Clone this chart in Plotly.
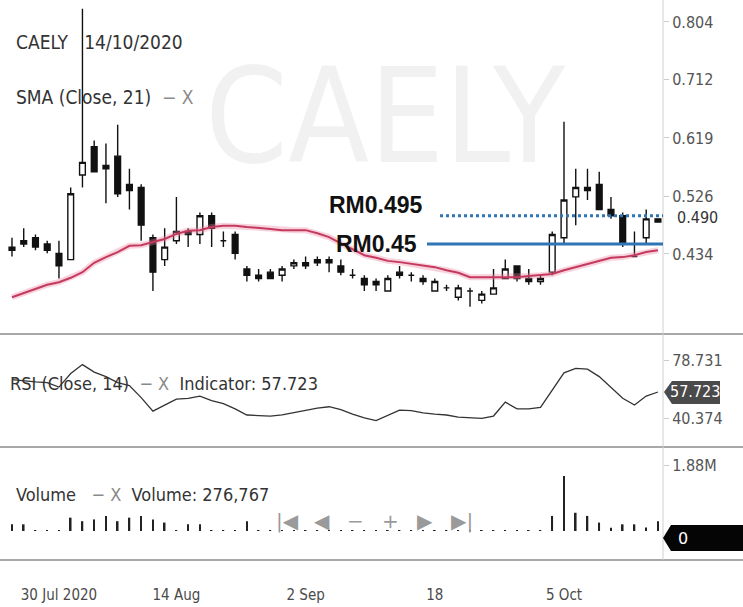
import plotly.graph_objects as go

# ---------------- data ----------------
dates = [
    "2020-07-24", "2020-07-27", "2020-07-28", "2020-07-29", "2020-07-30",
    "2020-08-03", "2020-08-04", "2020-08-05", "2020-08-06", "2020-08-07",
    "2020-08-10", "2020-08-11", "2020-08-12", "2020-08-13", "2020-08-14",
    "2020-08-17", "2020-08-18", "2020-08-19", "2020-08-21", "2020-08-24",
    "2020-08-25", "2020-08-26", "2020-08-27", "2020-08-28", "2020-09-01",
    "2020-09-02", "2020-09-03", "2020-09-04", "2020-09-07", "2020-09-08",
    "2020-09-09", "2020-09-10", "2020-09-11", "2020-09-14", "2020-09-15",
    "2020-09-17", "2020-09-18", "2020-09-21", "2020-09-22", "2020-09-23",
    "2020-09-24", "2020-09-25", "2020-09-28", "2020-09-29", "2020-09-30",
    "2020-10-01", "2020-10-02", "2020-10-05", "2020-10-06", "2020-10-07",
    "2020-10-08", "2020-10-09", "2020-10-12", "2020-10-13", "2020-10-14",
    "2020-10-15",
]
opens = [0.445, 0.455, 0.460, 0.450, 0.435, 0.425, 0.560, 0.605, 0.575, 0.590,
         0.545, 0.540, 0.460, 0.425, 0.455, 0.470, 0.465, 0.495, 0.455, 0.465,
         0.410, 0.400, 0.405, 0.400, 0.415, 0.420, 0.425, 0.425, 0.415, 0.400,
         0.395, 0.390, 0.375, 0.405, 0.400, 0.395, 0.375, 0.380, 0.365, 0.375,
         0.360, 0.370, 0.395, 0.415, 0.395, 0.390, 0.405, 0.460, 0.525, 0.540,
         0.545, 0.505, 0.495, 0.430, 0.460, 0.490]
highs = [0.460, 0.475, 0.465, 0.455, 0.455, 0.540, 0.825, 0.615, 0.610, 0.640,
         0.570, 0.545, 0.465, 0.475, 0.525, 0.475, 0.500, 0.500, 0.470, 0.470,
         0.415, 0.410, 0.410, 0.415, 0.425, 0.430, 0.430, 0.430, 0.425, 0.410,
         0.400, 0.395, 0.400, 0.415, 0.405, 0.400, 0.395, 0.385, 0.385, 0.380,
         0.375, 0.410, 0.425, 0.415, 0.410, 0.400, 0.470, 0.645, 0.570, 0.570,
         0.565, 0.525, 0.500, 0.470, 0.505, 0.490]
lows = [0.430, 0.445, 0.440, 0.435, 0.395, 0.425, 0.540, 0.565, 0.515, 0.525,
        0.505, 0.455, 0.375, 0.415, 0.450, 0.445, 0.450, 0.445, 0.445, 0.425,
        0.390, 0.390, 0.395, 0.390, 0.410, 0.410, 0.415, 0.405, 0.400, 0.395,
        0.375, 0.375, 0.375, 0.395, 0.390, 0.385, 0.375, 0.375, 0.360, 0.350,
        0.355, 0.370, 0.395, 0.390, 0.385, 0.385, 0.400, 0.450, 0.480, 0.520,
        0.505, 0.490, 0.445, 0.430, 0.450, 0.485]
closes = [0.440, 0.450, 0.445, 0.440, 0.415, 0.530, 0.580, 0.565, 0.570, 0.530,
          0.535, 0.480, 0.405, 0.445, 0.470, 0.465, 0.495, 0.475, 0.455, 0.435,
          0.400, 0.395, 0.395, 0.410, 0.420, 0.415, 0.420, 0.420, 0.405, 0.400,
          0.385, 0.385, 0.395, 0.400, 0.400, 0.390, 0.390, 0.380, 0.380, 0.375,
          0.370, 0.380, 0.410, 0.395, 0.390, 0.395, 0.465, 0.520, 0.540, 0.535,
          0.505, 0.495, 0.450, 0.430, 0.490, 0.485]
sma21 = [0.365, 0.372, 0.378, 0.385, 0.389, 0.396, 0.405, 0.420, 0.429, 0.437,
         0.447, 0.448, 0.453, 0.458, 0.466, 0.471, 0.472, 0.477, 0.479, 0.479,
         0.477, 0.476, 0.474, 0.472, 0.472, 0.472, 0.467, 0.461, 0.451, 0.441,
         0.432, 0.428, 0.423, 0.421, 0.418, 0.415, 0.413, 0.408, 0.404, 0.397,
         0.397, 0.397, 0.397, 0.397, 0.399, 0.400, 0.402, 0.408, 0.413, 0.418,
         0.424, 0.428, 0.429, 0.432, 0.437, 0.440]
rsi14 = [66.0, 65.0, 64.5, 64.0, 61.0, 70.0, 76.0, 71.0, 68.0, 64.0,
         62.0, 54.0, 45.0, 49.0, 53.0, 53.5, 55.0, 52.0, 50.0, 46.5,
         42.4, 42.0, 41.7, 42.5, 44.0, 45.5, 47.0, 47.9, 46.0, 43.0,
         40.5, 38.6, 42.0, 45.7, 45.3, 43.8, 43.0, 42.4, 41.0, 40.5,
         40.2, 41.7, 51.0, 46.5, 46.5, 47.5, 59.0, 70.5, 73.5, 73.0,
         68.0, 61.0, 53.5, 49.0, 55.0, 57.723]
volume = [190000, 190000, 15000, 10000, 15000, 380000, 280000, 330000, 430000, 280000,
          380000, 430000, 330000, 240000, 20000, 190000, 190000, 15000, 10000, 15000,
          280000, 8000, 6000, 6000, 5000, 6000, 5000, 6000, 8000, 5000,
          9000, 6000, 8000, 6000, 5000, 6000, 8000, 5000, 9000, 6000,
          8000, 10000, 12000, 10000, 8000, 6000, 430000, 1570000, 520000, 430000,
          240000, 90000, 190000, 190000, 100000, 276767]

tick_dates = ["2020-07-30", "2020-08-14", "2020-09-02", "2020-09-18", "2020-10-05"]
tick_text = ["30 Jul 2020", "14 Aug", "2 Sep", "18", "5 Oct"]
price_ticks = [0.434, 0.526, 0.619, 0.712, 0.804]
rsi_ticks = [40.374, 78.731]
vol_ticks = [1880000]
vol_tick_text = ["1.88M"]
target_hi = 0.495
target_lo = 0.45
last_price = "0.490"
last_rsi = "57.723"

# ---------------- figure ----------------
W, H = 743, 607
def px(x):
    return x / W
def py(y):
    return 1 - y / H

FAM = "DejaVu Sans, sans-serif"
def cond(s):
    return f"<span style='font-stretch:condensed'>{s}</span>"

XD = [0, px(663)]

fig = go.Figure()

fig.add_trace(go.Candlestick(
    x=dates, open=opens, high=highs, low=lows, close=closes,
    increasing=dict(line=dict(color="#111111", width=1.4), fillcolor="white"),
    decreasing=dict(line=dict(color="#111111", width=1.4), fillcolor="#111111"),
    xaxis="x", yaxis="y", showlegend=False, hoverinfo="skip",
))
fig.add_trace(go.Scatter(x=dates, y=sma21, mode="lines",
                         line=dict(color="rgba(235,130,160,0.35)", width=6),
                         xaxis="x", yaxis="y", showlegend=False, hoverinfo="skip"))
fig.add_trace(go.Scatter(x=dates, y=sma21, mode="lines",
                         line=dict(color="#c43a5e", width=2),
                         xaxis="x", yaxis="y", showlegend=False, hoverinfo="skip"))
fig.add_trace(go.Scatter(x=dates, y=rsi14, mode="lines",
                         line=dict(color="#333333", width=1.3),
                         xaxis="x2", yaxis="y2", showlegend=False, hoverinfo="skip"))
fig.add_trace(go.Bar(x=dates, y=volume, width=0.14,
                     marker=dict(color="#222222", line=dict(width=0)),
                     xaxis="x3", yaxis="y3", showlegend=False, hoverinfo="skip"))

axis_font = dict(family=FAM, size=16, color="#555555")
xcommon = dict(type="category", domain=XD, range=[-1.02, 55.43],
               showgrid=False, zeroline=False, showline=False, fixedrange=True)

fig.update_layout(
    width=W, height=H, margin=dict(l=0, r=0, t=0, b=0),
    paper_bgcolor="white", plot_bgcolor="rgba(0,0,0,0)",
    xaxis=dict(**xcommon, anchor="y", showticklabels=False, rangeslider=dict(visible=False)),
    xaxis2=dict(**xcommon, anchor="y2", matches="x", showticklabels=False),
    xaxis3=dict(**xcommon, anchor="y3", matches="x", showticklabels=True,
                tickmode="array", tickvals=tick_dates, ticktext=[cond(t) for t in tick_text],
                ticks="outside", ticklen=21, tickcolor="rgba(0,0,0,0)",
                tickfont=dict(family=FAM, size=15, color="#4a4a4a")),
    yaxis=dict(domain=[py(334), 1], range=[0.3064, 0.839], side="right", anchor="x",
               tickmode="array", tickvals=price_ticks,
               ticktext=[cond(f"{v:.3f}") for v in price_ticks],
               ticks="outside", ticklen=5, tickcolor="#cccccc",
               tickfont=axis_font, showgrid=False, zeroline=False, fixedrange=True),
    yaxis2=dict(domain=[py(447), py(334)], range=[21.06, 96.39], side="right", anchor="x2",
                tickmode="array", tickvals=rsi_ticks,
                ticktext=[cond(f"{v:.3f}") for v in rsi_ticks],
                ticks="outside", ticklen=5, tickcolor="#cccccc",
                tickfont=axis_font, showgrid=False, zeroline=False, fixedrange=True),
    yaxis3=dict(domain=[py(560), py(447)], range=[-826000, 2393000], side="right", anchor="x3",
                tickmode="array", tickvals=vol_ticks, ticktext=[cond(t) for t in vol_tick_text],
                ticks="outside", ticklen=5, tickcolor="#cccccc",
                tickfont=axis_font, showgrid=False, zeroline=False, fixedrange=True),
)

shapes = []
for yy in (334, 447, 560):
    shapes.append(dict(type="line", xref="paper", yref="paper", x0=0, x1=1,
                       y0=py(yy), y1=py(yy), line=dict(color="#a8a8a8", width=2), layer="below"))
shapes.append(dict(type="line", xref="paper", yref="paper", x0=px(663), x1=px(663),
                   y0=py(560), y1=1, line=dict(color="#d0d0d0", width=1), layer="below"))
shapes.append(dict(type="line", xref="x domain", yref="y", x0=440 / 663, x1=1,
                   y0=target_hi, y1=target_hi, line=dict(color="#2e75b6", width=3, dash="dot")))
shapes.append(dict(type="line", xref="x domain", yref="y", x0=427 / 663, x1=1,
                   y0=target_lo, y1=target_lo, line=dict(color="#2e75b6", width=3)))
shapes.append(dict(type="path", xref="paper", yref="paper",
                   path=f"M {px(664)},{py(392)} L {px(672)},{py(381)} L {px(720)},{py(381)} "
                        f"L {px(720)},{py(404)} L {px(672)},{py(404)} Z",
                   fillcolor="#4a4a4a", line=dict(width=0)))
shapes.append(dict(type="path", xref="paper", yref="paper",
                   path=f"M {px(663)},{py(538)} L {px(671)},{py(525)} L {px(743)},{py(525)} "
                        f"L {px(743)},{py(551)} L {px(671)},{py(551)} Z",
                   fillcolor="#050505", line=dict(width=0)))
fig.update_layout(shapes=shapes)

def note(text, x, y, size=20, color="#333333", family=FAM, xanchor="left", **kw):
    return dict(text=text, x=px(x), y=py(y), xref="paper", yref="paper",
                xanchor=xanchor, yanchor="middle", showarrow=False,
                font=dict(family=family, size=size, color=color), **kw)

grey = "#8a8a8a"
anns = [
    note(cond("CAELY"), 385, 116, size=132, color="rgba(0,0,0,0.055)", xanchor="center"),
    note(cond("CAELY&nbsp;&nbsp;&nbsp;14/10/2020"), 14, 42, size=19),
    note(cond(f"SMA (Close, 21) &nbsp;<span style='color:{grey}'>−&nbsp;X</span>"), 14, 97, size=19),
    note("<b>RM0.495</b>", 425, 205, size=23, color="#111111",
         family="Liberation Sans, Arial, sans-serif", xanchor="right"),
    note("<b>RM0.45</b>", 419, 244, size=23, color="#111111",
         family="Liberation Sans, Arial, sans-serif", xanchor="right"),
    note(cond(f"RSI (Close, 14) &nbsp;<span style='color:{grey}'>−&nbsp;X</span>&nbsp;&nbsp;Indicator: 57.723"),
         8, 383, size=18),
    note(cond(f"Volume &nbsp;&nbsp;<span style='color:{grey}'>−&nbsp;X</span>&nbsp;&nbsp;Volume: 276,767"),
         14, 494, size=18),
    note(cond(last_price), 675, 217, size=16, color="#333333", bgcolor="white"),
    note(cond(last_rsi), 695, 392, size=16, color="white", xanchor="center"),
    note("0", 676, 538, size=16, color="white"),
]
nav = [("|◀", 287), ("◀", 322), ("−", 355), ("+", 390), ("▶", 425), ("▶|", 462)]
for t, x in nav:
    anns.append(note(t, x, 521, size=20, color="#9a9a9a", xanchor="center"))
fig.update_layout(annotations=anns)

fig.write_html("out.html")
